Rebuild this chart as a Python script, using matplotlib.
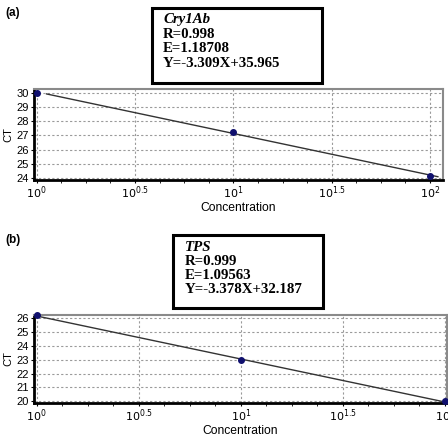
import numpy as np
import matplotlib
matplotlib.use("Agg")
import matplotlib.pyplot as plt
from matplotlib.patches import Rectangle
from matplotlib.ticker import FixedLocator, NullFormatter

# ─── DATA ────────────────────────────────────────────────────
conc = [1, 10, 100]
ct_cry1ab = [30.0, 27.25, 24.15]
ct_tps = [26.2, 22.95, 20.0]

xtick_pos = [0, 0.5, 1, 1.5, 2]
xtick_labels = ["$10^{0}$", "$10^{0.5}$", "$10^{1}$", "$10^{1.5}$", "$10^{2}$"]

box_a = ["Cry1Ab", "R=0.998", "E=1.18708", "Y=-3.309X+35.965"]
box_b = ["TPS", "R=0.999", "E=1.09563", "Y=-3.378X+32.187"]

W, H = 448, 434
fig = plt.figure(figsize=(W / 100, H / 100), dpi=100)
fig.patch.set_facecolor("white")

SANS = "Liberation Sans"
SERIF = "Liberation Serif"


def px(x0, y0, x1, y1):
    # pixel box -> figure fraction rect
    return [x0 / W, 1 - y1 / H, (x1 - x0) / W, (y1 - y0) / H]


def draw_panel(rect, ct, xlim, ylim, yticks, line_x):
    ax = fig.add_axes(rect)
    ax.set_xscale("log")
    x = np.array(conc, dtype=float)
    lx = np.log10(x)
    k, b = np.polyfit(lx, ct, 1)
    fx = np.array(line_x)
    ax.plot(10 ** fx, k * fx + b, color="#333333", lw=1.0, zorder=3)
    ax.plot(x, ct, "o", ms=4, color="#10106e", zorder=4, clip_on=False)

    ax.set_xlim(10 ** xlim[0], 10 ** xlim[1])
    ax.set_ylim(*ylim)
    ax.xaxis.set_major_locator(FixedLocator([10 ** p for p in xtick_pos]))
    ax.xaxis.set_minor_locator(FixedLocator([10 ** (i * 0.125) for i in range(17)]))
    ax.xaxis.set_minor_formatter(NullFormatter())
    ax.set_xticklabels(xtick_labels, fontsize=8, family=SANS)
    ax.set_yticks(yticks)
    ax.set_yticklabels([str(v) for v in yticks], fontsize=8, family=SANS)
    ax.tick_params(axis="both", which="major", length=2.5, width=0.8, pad=1)
    ax.tick_params(axis="x", which="major", pad=0.5)
    ax.tick_params(axis="x", which="minor", length=2, width=0.6)
    ax.grid(True, which="major", color="#9a9a9a", lw=0.8, linestyle=(0, (2, 2)))
    ax.set_axisbelow(True)

    for s in ["left", "bottom"]:
        ax.spines[s].set_linewidth(2.0)
        ax.spines[s].set_color("black")
    for s in ["top", "right"]:
        ax.spines[s].set_linewidth(1.5)
        ax.spines[s].set_color("#8a8a8a")

    ax.set_xlabel("Concentration", fontsize=8.7, family=SANS, labelpad=1)
    ax.set_ylabel("CT", fontsize=8, family=SANS, labelpad=2)
    return ax


def draw_box(x0, y0, x1, y1, lines, tx, ty0, dy):
    r = Rectangle((x0 / W, 1 - y1 / H), (x1 - x0) / W, (y1 - y0) / H,
                  transform=fig.transFigure, fill=False, lw=2.2,
                  edgecolor="black")
    fig.patches.append(r)
    for i, t in enumerate(lines):
        fig.text(tx / W, 1 - (ty0 + i * dy) / H, t, family=SERIF,
                 fontsize=10.7, weight="bold", style="italic" if i == 0 else "normal",
                 va="center", ha="left")


# Panel (a)
draw_panel(px(34, 89, 443, 180), ct_cry1ab, (-0.014, 2.066), (23.86, 30.26),
           [24, 25, 26, 27, 28, 29, 30], [0.05, 2.04])
draw_box(152, 8, 322, 83, box_a, 163, 20, 14.5)
fig.text(5 / W, 1 - 13 / H, "(a)", family=SANS, fontsize=8.5, weight="bold",
         va="center")

# Panel (b)
draw_panel(px(34, 315, 447, 403), ct_tps, (-0.013, 2.01), (19.88, 26.22),
           [20, 21, 22, 23, 24, 25, 26], [0.0, 2.0])
draw_box(173, 235, 323, 308, box_b, 185, 247, 14.2)
fig.text(5 / W, 1 - 240 / H, "(b)", family=SANS, fontsize=8.5, weight="bold",
         va="center")

fig.savefig("out.png", dpi=100)
